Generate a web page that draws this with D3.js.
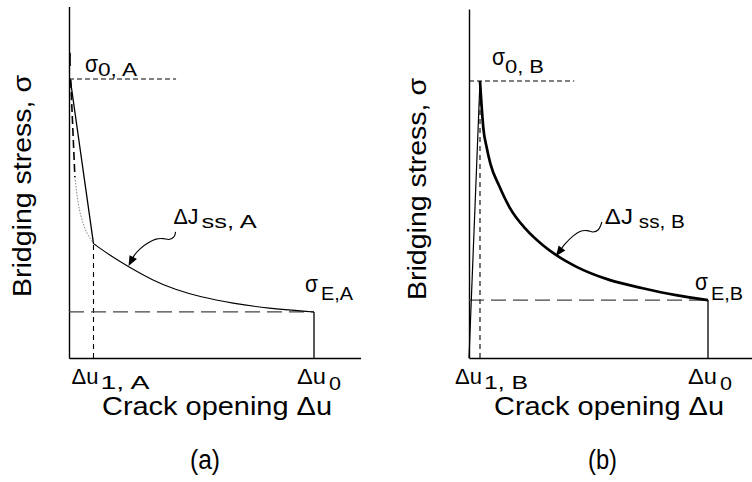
<!DOCTYPE html>
<html>
<head>
<meta charset="utf-8">
<script src="https://cdn.jsdelivr.net/npm/d3@7"></script>
<style>
  body { margin: 0; background: #fff; }
  svg { display: block; }
  text { font-family: "Liberation Sans", Arial, Helvetica, sans-serif; fill: #000; }
</style>
</head>
<body>
<svg id="chart" width="752" height="482"></svg>
<script>
// ---- data (normalised units: crack opening / Δu0, stress / σ0) ----
const u0 = 1.0;

// (a) steep initial softening, then a long tail
const peakA = [0.005, 1.0];
const u1A = 0.100;
const sigma1A = 0.410;
const sigmaEA = 0.165;
const tailA_u = [0.100, 0.167, 0.241, 0.343, 0.433, 0.535, 0.669, 0.808, 1.000];
const tailA_s = [0.410, 0.368, 0.328, 0.278, 0.245, 0.219, 0.196, 0.178, 0.165];
const dashA_u = [0.007, 0.024];
const dashA_s = [0.996, 0.649];
const dotA_u = [0.024, 0.038, 0.058, 0.086, 0.100];
const dotA_s = [0.649, 0.554, 0.482, 0.429, 0.410];
const arrowA_u = [0.435, 0.429, 0.408, 0.384, 0.355, 0.322, 0.290, 0.265, 0.243];
const arrowA_s = [0.452, 0.435, 0.425, 0.428, 0.426, 0.412, 0.391, 0.366, 0.330];

// (b) linear rise to the peak, then hyperbolic decay
const riseB_u = [0.000, 0.046];
const riseB_s = [0.000, 1.000];
const u1B = 0.046;
const sigmaEB = 0.209;
const curveB_u = [0.046, 0.052, 0.060, 0.074, 0.090, 0.127, 0.169, 0.238, 0.308, 0.364, 0.448, 0.587, 0.727, 0.866, 1.000];
const curveB_s = [1.000, 0.920, 0.830, 0.760, 0.700, 0.620, 0.545, 0.465, 0.408, 0.372, 0.330, 0.282, 0.252, 0.227, 0.209];
const arrowB_u = [0.556, 0.540, 0.519, 0.494, 0.464, 0.435, 0.402, 0.364];
const arrowB_s = [0.491, 0.462, 0.455, 0.460, 0.457, 0.440, 0.412, 0.368];

const guideEnd = [0.437, 0.440];   // extent of the σ0 guide line in each panel

// ---- text ----
const xTitle = "Crack opening Δu";
const yTitle = "Bridging stress, σ";
const panelTags = ["(a)", "(b)"];
const matNames = ["A", "B"];

// ---- layout ----
const xMax = 1.19, yMax = 1.26;
const panels = [
  { ox: 69,  oy: 358, uw: 245, uh: 279 },
  { ox: 469, oy: 358, uw: 239, uh: 277 }
];

const svg = d3.select("#chart");

function txt(g, s, x, y, size, len, extra) {
  const t = g.append("text").attr("x", x).attr("y", y)
    .attr("font-size", size).text(s);
  if (len) t.attr("textLength", len).attr("lengthAdjust", "spacingAndGlyphs");
  if (extra) extra(t);
  return t;
}

function arrowHead(g, p0, p1) {
  const dx = p1[0] - p0[0], dy = p1[1] - p0[1];
  const L = Math.hypot(dx, dy), ux = dx / L, uy = dy / L;
  const len = 10, hw = 4.2;
  const bx = p1[0] - ux * len, by = p1[1] - uy * len;
  g.append("path")
    .attr("d", `M${p1[0]},${p1[1]}L${bx - uy * hw},${by + ux * hw}L${bx + uy * hw},${by - ux * hw}Z`)
    .attr("fill", "#000");
}

panels.forEach((P, i) => {
  const g = svg.append("g");
  const x = d3.scaleLinear().domain([0, xMax]).range([P.ox, P.ox + xMax * P.uw]);
  const y = d3.scaleLinear().domain([0, yMax]).range([P.oy, P.oy - yMax * P.uh]);
  const line = d3.line().x(d => x(d[0])).y(d => y(d[1]));
  const zip = (a, b) => a.map((v, k) => [v, b[k]]);

  const peak = i === 0 ? peakA : [riseB_u[1], riseB_s[1]];
  const u1 = i === 0 ? u1A : u1B;
  const sE = i === 0 ? sigmaEA : sigmaEB;

  // axes (no ticks)
  g.append("g").attr("transform", `translate(0,${P.oy})`)
    .call(d3.axisBottom(x).tickValues([]).tickSizeOuter(0))
    .select(".domain").attr("stroke", "#000").attr("stroke-width", 1.4);
  g.append("g").attr("transform", `translate(${P.ox},0)`)
    .call(d3.axisLeft(y).tickValues([]).tickSizeOuter(0))
    .select(".domain").attr("stroke", "#000").attr("stroke-width", 1.4);

  // σ0 guide
  g.append("path").attr("d", line([[0, peak[1]], [guideEnd[i], peak[1]]]))
    .attr("stroke", "#000").attr("stroke-width", 1.1).attr("stroke-dasharray", "5,3").attr("fill", "none");
  // Δu1 guide
  const s1 = i === 0 ? sigma1A : peak[1];
  g.append("path").attr("d", line([[u1, 0], [u1, s1]]))
    .attr("stroke", "#000").attr("stroke-width", 1.1).attr("stroke-dasharray", "5,4").attr("fill", "none");
  // σE guide (long dashes)
  g.append("path").attr("d", line([[0, sE], [u0, sE]]))
    .attr("stroke", "#444").attr("stroke-width", 1.3).attr("stroke-dasharray", "15,7").attr("fill", "none");
  // end of bridging at Δu0
  g.append("path").attr("d", line([[u0, 0], [u0, sE]]))
    .attr("stroke", "#000").attr("stroke-width", 1.3).attr("fill", "none");

  if (i === 0) {
    g.append("path").attr("d", line([[peakA[0], 1.094], [peakA[0], 1.047]]))
      .attr("stroke", "#000").attr("stroke-width", 1.2);
    g.append("path").attr("d", line(zip(dashA_u, dashA_s)))
      .attr("stroke", "#000").attr("stroke-width", 1.6).attr("stroke-dasharray", "8,4").attr("fill", "none");
    g.append("path").attr("d", line.curve(d3.curveMonotoneX)(zip(dotA_u, dotA_s)))
      .attr("stroke", "#666").attr("stroke-width", 0.8).attr("stroke-dasharray", "1.5,1.5").attr("fill", "none");
    line.curve(d3.curveLinear);
    g.append("path").attr("d", line([peakA, [u1A, sigma1A]]))
      .attr("stroke", "#000").attr("stroke-width", 1.3).attr("fill", "none");
    g.append("path").attr("d", line.curve(d3.curveBasis)(zip(tailA_u, tailA_s)))
      .attr("stroke", "#000").attr("stroke-width", 1.1).attr("fill", "none");
    line.curve(d3.curveLinear);
  } else {
    g.append("path").attr("d", line(zip(riseB_u, riseB_s)))
      .attr("stroke", "#000").attr("stroke-width", 1.2).attr("fill", "none");
    g.append("path").attr("d", line.curve(d3.curveMonotoneX)(zip(curveB_u, curveB_s)))
      .attr("stroke", "#000").attr("stroke-width", 2.7).attr("fill", "none");
    line.curve(d3.curveLinear);
  }

  // wavy arrow pointing at the curve
  const au = i === 0 ? arrowA_u : arrowB_u, as = i === 0 ? arrowA_s : arrowB_s;
  const apts = zip(au, as);
  g.append("path").attr("d", line.curve(d3.curveCatmullRom)(apts.slice(0, -1).concat([[
      au[au.length - 1] + (au[au.length - 2] - au[au.length - 1]) * 0.6,
      as[as.length - 1] + (as[as.length - 2] - as[as.length - 1]) * 0.6]])))
    .attr("stroke", "#000").attr("stroke-width", 1.1).attr("fill", "none");
  line.curve(d3.curveLinear);
  const n = apts.length;
  arrowHead(g, [x(au[n - 2]), y(as[n - 2])], [x(au[n - 1]), y(as[n - 1])]);

  // ---- labels ----
  const m = matNames[i];
  // σ0 label
  const s0x = i === 0 ? x(0) + 16 : x(0) + 23;
  const s0y = i === 0 ? y(1) - 7 : y(1) - 16;
  txt(g, "σ", s0x, s0y, 24, 13);
  txt(g, "0, " + m, s0x + 13, s0y + (i === 0 ? 4 : 8), 18, 39);
  // σE label
  const sEx = i === 0 ? x(u0) - 9 : x(u0) - 13;
  const sEy = y(sE) - (i === 0 ? 20 : 10);
  txt(g, "σ", sEx, sEy, 23, 13);
  txt(g, "E," + m, sEx + 16, y(sE) - (i === 0 ? 12 : 0), 18, 32);
  // ΔJss label at the arrow tail
  const jx = x(au[0]) + (i === 0 ? -2 : 3), jy = y(as[0]) - 8 + (i === 0 ? 0 : 10);
  txt(g, "ΔJ", jx, jy, 22, i === 0 ? 25 : 28);
  txt(g, "ss, " + m, jx + (i === 0 ? 28 : 34), jy + 4, 18, i === 0 ? 55 : 46);
  // Δu1 and Δu0 labels under the axis
  const bx1 = x(u1) - (i === 0 ? 22 : 25);
  txt(g, "Δu", bx1, P.oy + 26, 22, 27);
  txt(g, "1, " + m, bx1 + 29, P.oy + 31, 19, i === 0 ? 49 : 44);
  const bx0 = x(u0) - (i === 0 ? 17 : 20);
  txt(g, "Δu", bx0, P.oy + 26, 22, 29);
  txt(g, "0", bx0 + 32, P.oy + 32, 19, 12);
  // axis titles
  txt(g, xTitle, P.ox + (i === 0 ? 33 : 25), 415, 25, 230);
  const ty = i === 0 ? 31 : 426;
  txt(g, yTitle, 0, 0, 25, 222, t => t.attr("transform", `translate(${ty},${i === 0 ? 297 : 300}) rotate(-90)`));
  txt(g, panelTags[i], i === 0 ? 190 : 588, 469, 27, i === 0 ? 30 : 29);
});
</script>
</body>
</html>
